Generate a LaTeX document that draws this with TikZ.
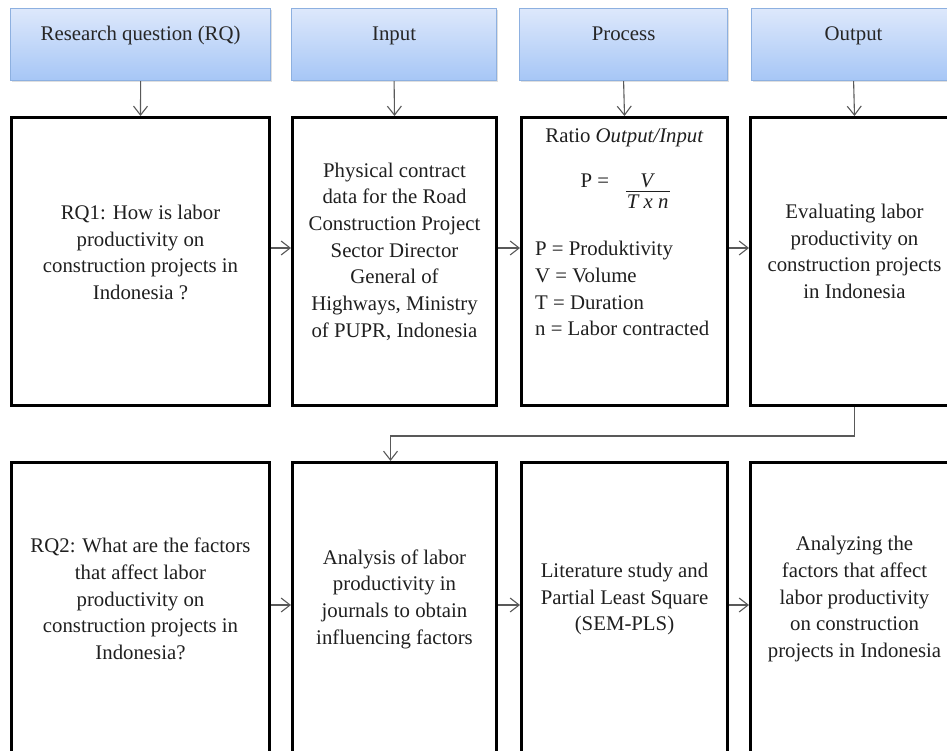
\documentclass[tikz,border=0pt]{standalone}
\usepackage{fontspec}
\setmainfont{Liberation Serif}
\usetikzlibrary{positioning,arrows.meta,shadows}

\definecolor{headtop}{HTML}{DDE8FB}
\definecolor{headbot}{HTML}{A6C6F6}
\definecolor{headline}{HTML}{8DB0E0}

\tikzset{
  head/.style={draw=headline, line width=1.2pt, top color=headtop, bottom color=headbot,
    minimum height=72pt, anchor=north west, align=center, text=black!85,
    drop shadow={shadow xshift=1pt, shadow yshift=-1.5pt, opacity=0.25}},
  stage/.style={draw, line width=3pt, anchor=north west},
  txt/.style={align=center, inner sep=0pt, text=black!88},
  link/.style={draw=black!65, line width=1.1pt, -{Straight Barb[length=9pt,width=14pt]}}
}

\begin{document}
\begin{tikzpicture}[x=1pt, y=-1pt, font=\fontsize{20.8}{26.7}\selectfont]
    \useasboundingbox (0,0) rectangle (947,751);
    \clip (0,0) rectangle (947,751);

    % Headers
    \node (hRQ) [head, minimum width=260pt] at (10,8) {Research question (RQ)\\[-4.5pt]\mbox{}};
    \node (hIn) [head, minimum width=205pt] at (291,8) {Input\\[-4.5pt]\mbox{}};
    \node (hPr) [head, minimum width=208pt] at (519,8) {Process\\[-4.5pt]\mbox{}};
    \node (hOut) [head, minimum width=204pt] at (751,8) {Output\\[-4.5pt]\mbox{}};

    % Row 1
    \node (rq1) [stage, minimum width=258pt, minimum height=288pt] at (10,116) {};
    \node (in1) [stage, minimum width=204pt, minimum height=288pt] at (291,116) {};
    \node (pr1) [stage, minimum width=206pt, minimum height=288pt] at (520,116) {};
    \node (out1) [stage, minimum width=208pt, minimum height=288pt] at (749,116) {};

    \node (rq1txt) [txt] at ([yshift=9pt]rq1.center)
        {RQ1: How is labor\\productivity on\\construction projects in\\Indonesia ?};
    \node (in1txt) [txt] at ([yshift=10pt]in1.center)
        {Physical contract\\data for the Road\\Construction Project\\Sector Director\\General of\\Highways, Ministry\\of PUPR, Indonesia};
    \node (ratio) [txt, anchor=base] at ([yshift=-27pt]pr1.north) {Ratio \textit{Output/Input}};
    \node (formula) [txt, anchor=base west] at ([xshift=-44pt, yshift=-72pt]pr1.north)
        {P =\hspace{0.8em}\begin{tabular}[t]{@{}c@{}}\textit{V}\\[-23pt]\rule{2.1em}{0.7pt}\\[-10pt]\textit{T x n}\end{tabular}};
    \node (legend) [txt, align=left, anchor=north west] at ([xshift=15pt, yshift=-125pt]pr1.north west)
        {P = Produktivity\\V = Volume\\T = Duration\\n = Labor contracted};
    \node (out1txt) [txt] at ([yshift=10pt]out1.center)
        {Evaluating labor\\productivity on\\construction projects\\in Indonesia};

    % Row 2
    \node (rq2) [stage, minimum width=258pt, minimum height=291pt] at (10,461) {};
    \node (in2) [stage, minimum width=204pt, minimum height=291pt] at (291,461) {};
    \node (pr2) [stage, minimum width=206pt, minimum height=291pt] at (520,461) {};
    \node (out2) [stage, minimum width=208pt, minimum height=291pt] at (749,461) {};

    \node (rq2txt) [txt] at ([yshift=9pt]rq2.center)
        {RQ2: What are the factors\\that affect labor\\productivity on\\construction projects in\\Indonesia?};
    \node (in2txt) [txt] at ([yshift=9pt]in2.center)
        {Analysis of labor\\productivity in\\journals to obtain\\influencing factors};
    \node (pr2txt) [txt] at ([yshift=9pt]pr2.center)
        {Literature study and\\Partial Least Square\\(SEM-PLS)};
    \node (out2txt) [txt] at ([yshift=9pt]out2.center)
        {Analyzing the\\factors that affect\\labor productivity\\on construction\\projects in Indonesia};

    % Arrows
    \draw[link] (hRQ.south) -- (rq1.north);
    \draw[link] (hIn.south) -- (in1.north);
    \draw[link] (hPr.south) -- (pr1.north);
    \draw[link] (hOut.south) -- (out1.north);
    \draw[link] ([yshift=13.5pt]rq1.east) -- ([yshift=13.5pt]in1.west);
    \draw[link] ([yshift=13.5pt]in1.east) -- ([yshift=13.5pt]pr1.west);
    \draw[link] ([yshift=13.5pt]pr1.east) -- ([yshift=13.5pt]out1.west);
    \draw[link] (out1.south) -- ++(0,29) -| ([xshift=-4pt]in2.north);
    \draw[link] ([yshift=3pt]rq2.east) -- ([yshift=3pt]in2.west);
    \draw[link] ([yshift=3pt]in2.east) -- ([yshift=3pt]pr2.west);
    \draw[link] ([yshift=3pt]pr2.east) -- ([yshift=3pt]out2.west);
\end{tikzpicture}
\end{document}
